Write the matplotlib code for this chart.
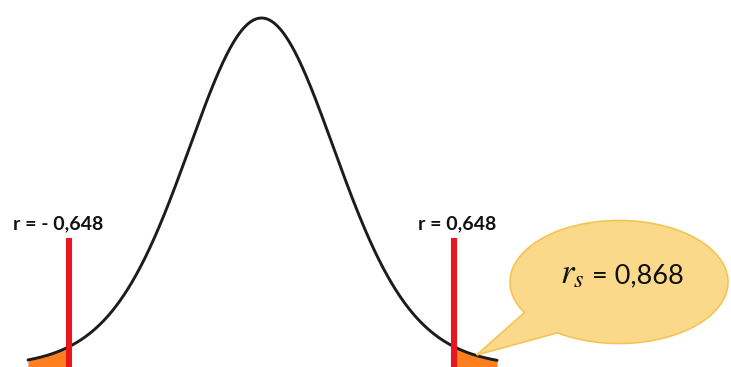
import math
import numpy as np
import matplotlib
matplotlib.use("Agg")
import matplotlib.pyplot as plt
from matplotlib.path import Path
from matplotlib.patches import PathPatch

# ---- data ----
r_crit = 0.648                 # critical value of r (two-sided)
r_s = 0.868                    # observed Spearman coefficient
crit_labels = ["r = - 0,648", "r = 0,648"]
stat_symbol = r"$r_s$"
stat_value = " = 0,868"
dist_df = 15                   # shape of the drawn null distribution
dist_scale = 0.256             # spread of the null distribution (r units)
curve_range = (-0.786, 0.793)  # visible part of the curve

# ---- colours ----
curve_col = "#1c1c1c"
red = "#E8161F"
orange = "#FF7F1F"
bubble_fill = "#FAD98B"
bubble_edge = "#F4C555"


def null_pdf(x):
    t = np.asarray(x) / dist_scale
    return (1 + t ** 2 / dist_df) ** (-(dist_df + 1) / 2)   # peak normalised to 1


plt.rcParams["mathtext.fontset"] = "stix"

fig = plt.figure(figsize=(7.31, 3.67), dpi=100)
ax = fig.add_axes([0, 0, 1, 1])
ax.set_xlim(-0.8802, 1.5803)
ax.set_ylim(0, 367 / 349)
ax.axis("off")

x = np.linspace(curve_range[0], curve_range[1], 600)
y = null_pdf(x)

# rejection tails
xl = x[x <= -r_crit]
xr = x[x >= r_crit]
ax.fill_between(xl, 0, null_pdf(xl), color=orange, lw=0, zorder=2)
ax.fill_between(xr, 0, null_pdf(xr), color=orange, lw=0, zorder=2)

ax.plot(x, y, color=curve_col, lw=2.1, zorder=3, solid_capstyle="round")

# critical lines
for xc, lab in zip([-r_crit, r_crit], crit_labels):
    ax.vlines(xc, 0, 0.37, color=red, lw=4.4, zorder=4)
    ax.text(xc + (-0.035 if xc < 0 else 0.012), 0.41, lab, ha="center", va="center",
            fontsize=14, fontweight="bold", family="Lato", color="#111111", zorder=5)

# speech bubble (axes fraction coordinates)
cx, cy, a, b = 0.8468, 0.2316, 0.1491, 0.1676
p_up = (0.7155, 0.1471)
p_lo = (0.7592, 0.0872)
tip = (0.652, 0.0327)
t_up = math.atan2((p_up[1] - cy) / b, (p_up[0] - cx) / a)
t_lo = math.atan2((p_lo[1] - cy) / b, (p_lo[0] - cx) / a)
if t_up < t_lo:
    t_up += 2 * math.pi
ts = np.linspace(t_lo, t_up, 300)
verts = [(cx + a * math.cos(t), cy + b * math.sin(t)) for t in ts]
verts += [tip, verts[0]]
codes = [Path.MOVETO] + [Path.LINETO] * (len(verts) - 2) + [Path.CLOSEPOLY]
bubble = PathPatch(Path(verts, codes), transform=ax.transAxes, facecolor=bubble_fill,
                   edgecolor=bubble_edge, lw=1.2, zorder=6)
ax.add_patch(bubble)

ax.text(0.800, 0.228, stat_symbol, transform=ax.transAxes, ha="right", va="baseline",
        fontsize=25, color="#111111", zorder=7)
ax.text(0.800, 0.228, stat_value, transform=ax.transAxes, ha="left", va="baseline",
        fontsize=19.5, family="Lato", color="#111111", zorder=7)

fig.savefig("out.png", dpi=100)
